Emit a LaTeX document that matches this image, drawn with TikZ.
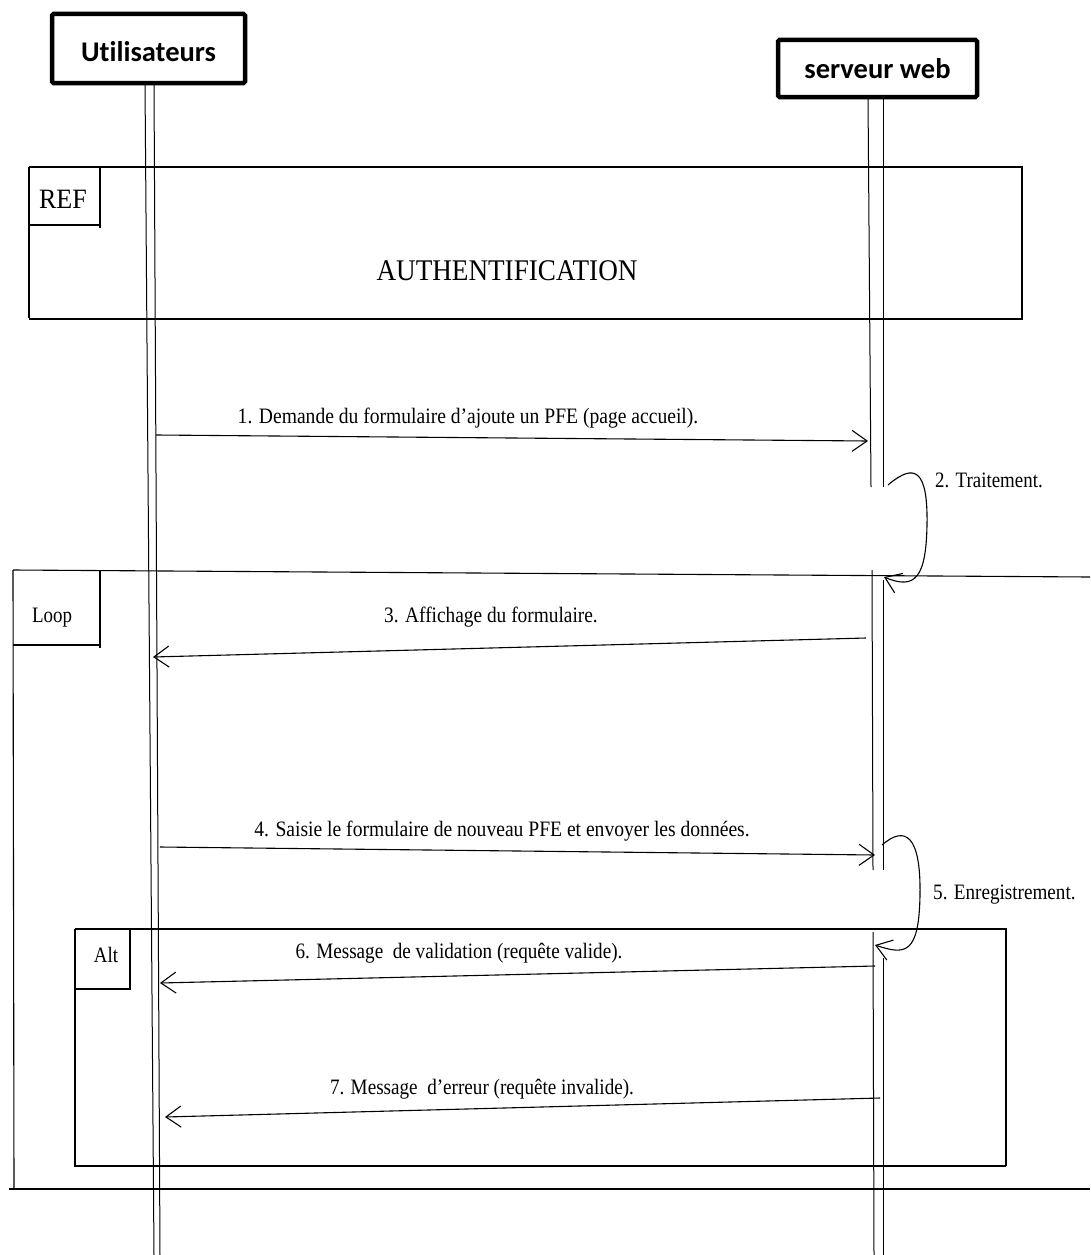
\documentclass[tikz,border=0pt]{standalone}
\usepackage{fontspec}
\setmainfont{Liberation Serif}
\newfontfamily\headfont[Ligatures=NoCommon]{Carlito}
\usetikzlibrary{arrows.meta}
\begin{document}
\begin{tikzpicture}[x=1pt,y=-1pt,
  actor/.style={draw,line width=4.5pt,rounded corners=1.5pt,inner sep=0pt},
  actortext/.style={inner sep=0pt,font=\headfont\bfseries\fontsize{28.5}{32}\selectfont},
  life/.style={line width=1pt},
  frame/.style={line width=1.1pt},
  msg/.style={line width=1.1pt,-{Straight Barb[length=15pt,width=21pt,line width=1.1pt]}},
  lbl/.style={inner sep=0pt,font=\fontsize{22}{26}\selectfont},
]
\useasboundingbox (0,0) rectangle (1090,1255);

% actors
\node[actor,minimum width=193pt,minimum height=69pt] (user) at (148.5,48.5) {};
\node[actor,minimum width=199pt,minimum height=57pt] (web) at (877.5,68.5) {};
\node[actortext] (usertxt) at ([yshift=-3pt]user.center) {Utilisateurs};
\node[actortext] (webtxt) at ([yshift=-0.5pt]web.center) {serveur web};

% user lifeline
\draw[life] (145,83) -- (154,1255);
\draw[life] (154,83) -- (160,1255);
% server lifeline, broken by the two self calls
\draw[life] (868,97) -- (871,487);
\draw[life] (883,97) -- (883,487);
\draw[life] (872,570) -- (873,870);
\draw[life] (883,580) -- (883,870);
\draw[life] (873,932) -- (874,1255);
\draw[life] (883,958) -- (883,1255);

% REF frame
\draw[frame] (29,167) -- (1022,167) -- (1022,318);
\draw[frame] (29,167) -- (29,318);
\draw[frame] (29,319) -- (1023,319);
\draw[frame] (100,167) -- (100,228);
\draw[frame] (29,225) -- (100,225);
\node[lbl,font=\fontsize{28}{32}\selectfont] (ref) at (63,199) {\scalebox{0.93}[1]{REF}};
\node[lbl,font=\fontsize{30}{34}\selectfont] (auth) at (507,271) {\scalebox{0.905}[1]{AUTHENTIFICATION}};

% Loop frame
\draw[frame] (13,570) -- (1090,577);
\draw[frame] (13,570) -- (14,1189);
\draw[frame] (9,1189) -- (1090,1189);
\draw[frame] (100,570) -- (100,648);
\draw[frame] (13,645) -- (100,645);
\node[lbl] (loop) at (52,618) {\scalebox{0.86}[1]{Loop}};

% Alt frame
\draw[frame] (75,929) -- (1006,929) -- (1006,1166);
\draw[frame] (75,929) -- (75,1166);
\draw[frame] (74,1166) -- (1006,1166);
\draw[frame] (130,929) -- (130,990);
\draw[frame] (75,989) -- (130,989);
\node[lbl] (alt) at (106,955) {\scalebox{0.86}[1]{Alt}};

% message end points on the lifelines
\coordinate (u1) at (156,435);  \coordinate (w1) at (868,441);
\coordinate (w3) at (866,638);  \coordinate (u3) at (153,657);
\coordinate (u4) at (160,847);  \coordinate (w4) at (875,855);
\coordinate (w6) at (875,966);  \coordinate (u6) at (160,983);
\coordinate (w7) at (880,1098); \coordinate (u7) at (165,1117);
\coordinate (s2a) at (888,485); \coordinate (s2b) at (884,577);
\coordinate (s5a) at (882,845); \coordinate (s5b) at (875,945);

\draw[msg] (u1) -- (w1);
\node[lbl] (l1) at (468,418) {\scalebox{0.89}[1]{1. Demande du formulaire d’ajoute un PFE (page accueil).}};

\draw[msg] (s2a) .. controls (915,462) and (928,470) .. (927,525)
  .. controls (926,578) and (915,590) .. (s2b);
\node[lbl,anchor=west] (l2) at (935,480) {\scalebox{0.86}[1]{2. Traitement.}};

\draw[msg] (w3) -- (u3);
\node[lbl] (l3) at (491,617) {\scalebox{0.88}[1]{3. Affichage du formulaire.}};

\draw[msg] (u4) -- (w4);
\node[lbl] (l4) at (502,831) {\scalebox{0.89}[1]{4. Saisie le formulaire de nouveau PFE et envoyer les données.}};

\draw[msg] (s5a) .. controls (905,825) and (921,835) .. (920,895)
  .. controls (919,955) and (905,955) .. (s5b);
\node[lbl,anchor=west] (l5) at (933,895) {\scalebox{0.87}[1]{5. Enregistrement.}};

\draw[msg] (w6) -- (u6);
\node[lbl] (l6) at (459,953) {\scalebox{0.87}[1]{6. Message\ \ de validation (requête valide).}};

\draw[msg] (w7) -- (u7);
\node[lbl] (l7) at (482,1089) {\scalebox{0.87}[1]{7. Message\ \ d’erreur (requête invalide).}};
\end{tikzpicture}
\end{document}
